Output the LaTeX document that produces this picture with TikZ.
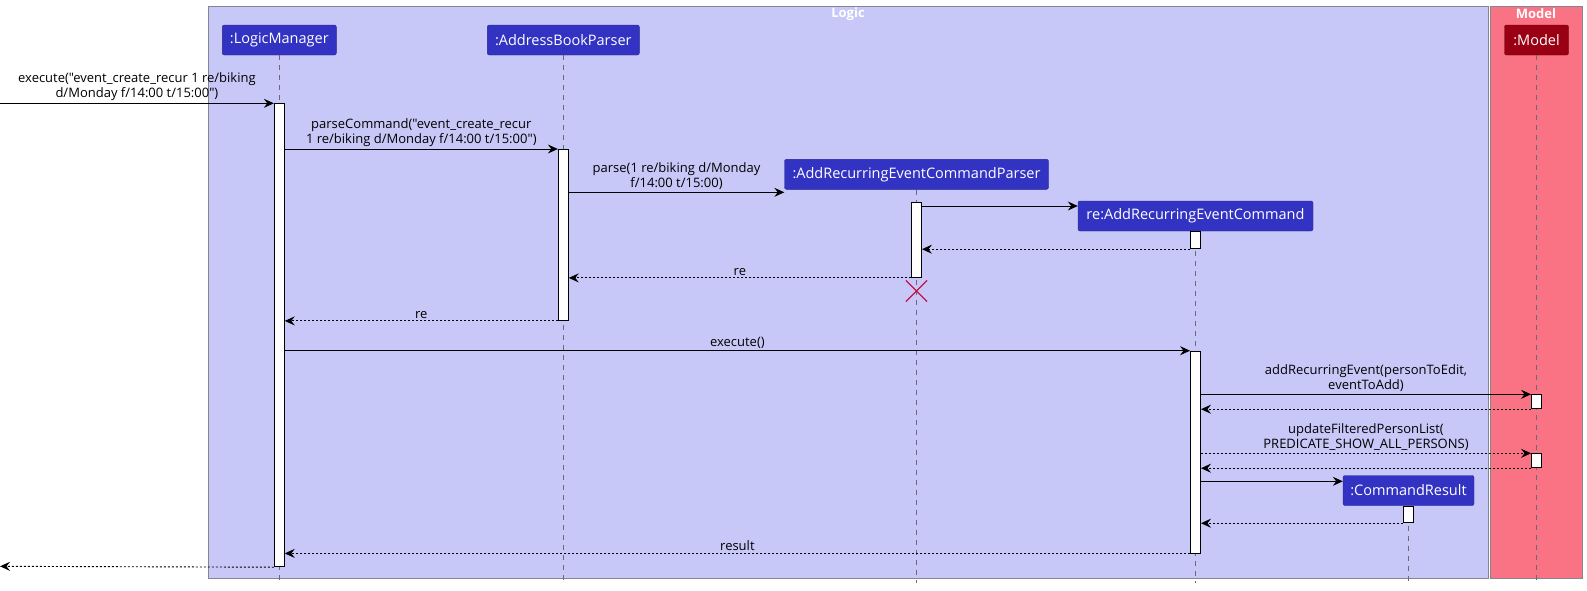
\documentclass[tikz,border=0pt]{standalone}
\usepackage{fontspec}
\setmainfont{Open Sans}[Ligatures=TeXOff]
\usepackage{tikz}
\usetikzlibrary{arrows.meta,shapes.misc}
\definecolor{logicbg}{HTML}{C8C8F8}
\definecolor{modelbg}{HTML}{FA7385}
\definecolor{lanegray}{HTML}{85858F}
\definecolor{partblue}{HTML}{3333C3}
\definecolor{partred}{HTML}{9A0013}
\definecolor{killred}{HTML}{C2124A}
\begin{document}
\begin{tikzpicture}[x=1pt,y=-1pt]
\tikzstyle{lane}=[draw=lanegray,line width=0.9pt]
\tikzstyle{lanetitle}=[text=white,font=\fontsize{13}{15}\selectfont\bfseries,inner sep=0pt]
\tikzstyle{part}=[draw=partblue!70!black,fill=partblue,rounded corners=2pt,text=white,font=\fontsize{14.5}{16}\selectfont,minimum height=30pt,inner sep=0pt]
\tikzstyle{life}=[draw=lanegray!80!black,line width=0.8pt,dash pattern=on 5pt off 5pt]
\tikzstyle{act}=[draw=black,fill=white,line width=0.9pt,minimum width=10pt,inner sep=0pt,anchor=north]
\tikzstyle{call}=[-{Stealth[length=10pt,width=9pt,inset=3.5pt]},line width=0.9pt]
\tikzstyle{ret}=[call,dash pattern=on 2pt off 2pt]
\tikzstyle{lbl}=[font=\fontsize{13}{15}\selectfont,align=center,above=1pt,inner sep=1pt]
\useasboundingbox (0,0) rectangle (1587,590);
\draw[lane,fill=logicbg] (208,6) rectangle (1488,578);
\draw[lane,fill=modelbg] (1490,6) rectangle (1582,578);
\node[lanetitle] (t1) at (848,14) {Logic};
\node[lanetitle] (t2) at (1536,14) {Model};
\node[part,minimum width=114pt] (p1) at (279.3,40) {:LogicManager};
\node[part,minimum width=152pt] (p2) at (563.3,40) {:AddressBookParser};
\node[part,minimum width=264pt] (p3) at (916.5,174.3) {:AddRecurringEventCommandParser};
\node[part,minimum width=235pt] (p4) at (1195.5,216) {re:AddRecurringEventCommand};
\node[part,minimum width=131pt] (p5) at (1408.5,490.5) {:CommandResult};
\node[part,minimum width=64pt,fill=partred,draw=partred!70!black] (p6) at (1536.5,40) {:Model};
\coordinate (bot) at (0,583);
\foreach \p in {p1,p2,p3,p4,p5,p6}
  \draw[life] (\p.south) -- (\p.south |- bot);
\node[act,minimum height=463pt] (a1) at (279.3,103.3) {};
\node[act,minimum height=171pt] (a2) at (563.3,149) {};
\node[act,minimum height=74.7pt] (a3) at (916.5,202.3) {};
\node[act,minimum height=17.3pt] (a4) at (1195.5,231) {};
\node[act,minimum height=201.8pt] (a5) at (1195.5,350.7) {};
\node[act,minimum height=14pt] (a6) at (1536.5,394.3) {};
\node[act,minimum height=14pt] (a7) at (1536.5,453.3) {};
\node[act,minimum height=16.6pt] (a8) at (1408.5,505.7) {};
\coordinate (in) at (0,103.3);
\coordinate (out) at (0,566.3);
\coordinate (y3) at (0,192.3);
\coordinate (y4) at (0,206);
\coordinate (y13) at (0,481.3);
\draw[call] (in) -- (a1.north west) node[lbl,midway] {execute("event\_create\_recur 1 re/biking\\d/Monday f/14:00 t/15:00")};
\draw[call] (a1.east |- a2.north) -- (a2.north west) node[lbl,midway] {parseCommand("event\_create\_recur\\1 re/biking d/Monday f/14:00 t/15:00")};
\draw[call] (a2.east |- y3) -- (p3.west |- y3) node[lbl,midway] {parse(1 re/biking d/Monday\\f/14:00 t/15:00)};
\draw[call] (a3.east |- y4) -- (p4.west |- y4);
\draw[ret] (a4.south west) -- (a3.east |- a4.south);
\draw[ret] (a3.south west) -- (a2.east |- a3.south) node[lbl,midway] {re};
\node[cross out,draw=killred,line width=1.2pt,minimum size=20pt,inner sep=0pt] (x1) at (916.5,291) {};
\draw[ret] (a2.south west) -- (a1.east |- a2.south) node[lbl,midway] {re};
\draw[call] (a1.east |- a5.north) -- (a5.north west) node[lbl,midway] {execute()};
\draw[call] (a5.east |- a6.north) -- (a6.north west) node[lbl,midway] {addRecurringEvent(personToEdit,\\eventToAdd)};
\draw[ret] (a6.south west) -- (a5.east |- a6.south);
\draw[ret] (a5.east |- a7.north) -- (a7.north west) node[lbl,midway] {updateFilteredPersonList(\\PREDICATE\_SHOW\_ALL\_PERSONS)};
\draw[ret] (a7.south west) -- (a5.east |- a7.south);
\draw[call] (a5.east |- y13) -- (p5.west |- y13);
\draw[ret] (a8.south west) -- (a5.east |- a8.south);
\draw[ret] (a5.south west) -- (a1.east |- a5.south) node[lbl,midway] {result};
\draw[ret] (a1.south west) -- (out);
\end{tikzpicture}
\end{document}
